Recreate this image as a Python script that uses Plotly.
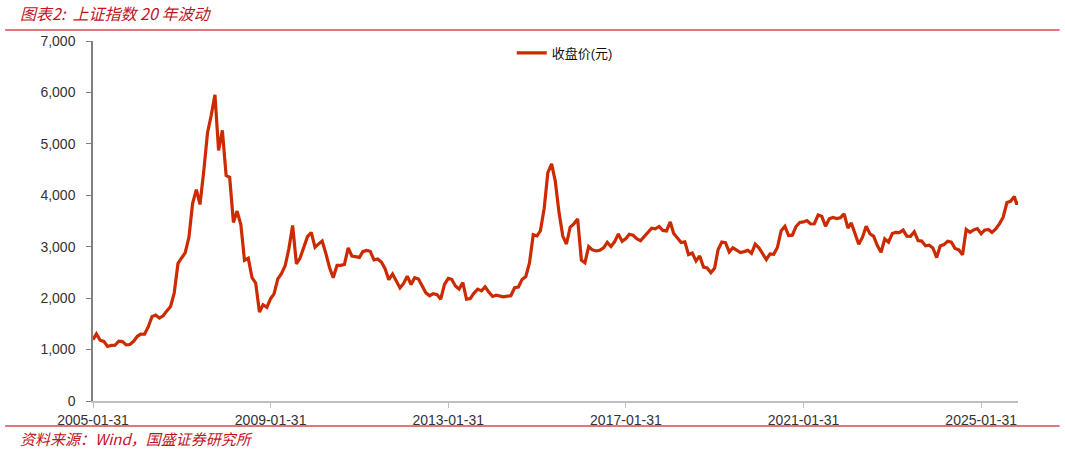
import pandas as pd
import plotly.graph_objects as go

# 上证指数 month-end close, 2005-01 .. 2025-11
CLOSE_2005_2014 = [
    1191, 1306, 1181, 1159, 1060, 1080, 1083, 1162, 1155, 1092, 1099, 1161,
    1258, 1299, 1298, 1440, 1641, 1672, 1612, 1658, 1752, 1837, 2099, 2675,
    2786, 2881, 3183, 3841, 4109, 3821, 4471, 5218, 5552, 5954, 4871, 5262,
    4383, 4348, 3473, 3693, 3433, 2736, 2776, 2397, 2293, 1729, 1871, 1821,
    1991, 2082, 2373, 2477, 2633, 2959, 3412, 2667, 2779, 2996, 3195, 3277,
    2989, 3051, 3110, 2870, 2592, 2398, 2638, 2639, 2656, 2979, 2820, 2808,
    2790, 2905, 2928, 2911, 2743, 2762, 2701, 2568, 2359, 2469, 2333, 2199,
    2292, 2428, 2263, 2397, 2373, 2225, 2103, 2047, 2086, 2069, 1980, 2269,
    2385, 2366, 2237, 2178, 2301, 1979, 1994, 2098, 2175, 2142, 2220, 2116,
    2033, 2056, 2033, 2026, 2039, 2048, 2202, 2217, 2364, 2420, 2683, 3235,
]
CLOSE_2015_2024 = [
    3210, 3310, 3748, 4442, 4612, 4277, 3664, 3206, 3053, 3383, 3445, 3539,
    2738, 2688, 3004, 2938, 2917, 2930, 2979, 3085, 3005, 3100, 3250, 3104,
    3159, 3242, 3223, 3155, 3117, 3192, 3273, 3361, 3349, 3393, 3317, 3307,
    3481, 3259, 3169, 3082, 3095, 2847, 2876, 2725, 2821, 2603, 2588, 2494,
    2585, 2941, 3091, 3078, 2899, 2979, 2933, 2886, 2905, 2929, 2872, 3050,
    2977, 2880, 2750, 2860, 2852, 2985, 3310, 3396, 3218, 3225, 3392, 3473,
    3483, 3509, 3442, 3447, 3615, 3591, 3397, 3544, 3568, 3547, 3564, 3640,
    3361, 3463, 3252, 3047, 3186, 3399, 3253, 3202, 3024, 2893, 3151, 3089,
    3256, 3280, 3273, 3323, 3205, 3202, 3291, 3120, 3110, 3019, 3030, 2975,
    2789, 3015, 3041, 3105, 3087, 2967, 2939, 2842, 3337, 3280, 3326, 3352,
]
CLOSE_2025 = [3251, 3321, 3336, 3279, 3347, 3444, 3573, 3858, 3883, 3975]
TAIL_DATES = ['2025-11-20', '2025-11-30']
TAIL_CLOSE = [3820, 3890]

TICK_DATES = ['2005-01-31', '2009-01-31', '2013-01-31', '2017-01-31',
              '2021-01-31', '2025-01-31']
Y_TICKS = [0, 1000, 2000, 3000, 4000, 5000, 6000, 7000]

RED_TEXT = '#C0141E'
RED_RULE = '#DC4650'
LINE_RED = '#CC2A00'

month_ends = pd.date_range('2005-01-31', '2025-10-31', freq='ME')
dates = list(month_ends.strftime('%Y-%m-%d')) + TAIL_DATES
close = CLOSE_2005_2014 + CLOSE_2015_2024 + CLOSE_2025 + TAIL_CLOSE

fig = go.Figure(go.Scatter(x=dates, y=close, mode='lines', name='收盘价(元)',
                           line=dict(color=LINE_RED, width=3.2)))

fig.update_layout(
    width=1065, height=452,
    margin=dict(l=93, r=47, t=41, b=51),
    paper_bgcolor='white', plot_bgcolor='white',
    font=dict(family='Liberation Sans, Arial, Noto Sans CJK SC', size=14, color='#333333'),
    showlegend=True,
    legend=dict(x=0.51, y=0.967, xanchor='center', yanchor='middle',
                font=dict(size=13, color='#111111'), bgcolor='rgba(0,0,0,0)'),
    xaxis=dict(type='date', range=[dates[0], dates[-1]],
               tickvals=TICK_DATES, ticktext=TICK_DATES,
               showgrid=False, showline=True, linecolor='#BFBFBF', linewidth=1.5,
               ticks='outside', ticklen=5, tickcolor='#BFBFBF', zeroline=False),
    yaxis=dict(range=[0, 7000], tickvals=Y_TICKS, tickformat=',d',
               showgrid=False, showline=True, linecolor='#808080', linewidth=1.5,
               ticks='outside', ticklen=5, tickcolor='#808080', zeroline=False,
               ticklabelstandoff=8),
)

# title, source and the two red rules
fig.add_annotation(text='图表2:  上证指数 20 年波动', xref='paper', yref='paper',
                   x=-0.081, y=1.078, xanchor='left', yanchor='middle', showarrow=False,
                   font=dict(family='Noto Sans CJK SC', size=16, color=RED_TEXT,
                             style='italic'))
fig.add_annotation(text='资料来源：Wind，国盛证券研究所', xref='paper', yref='paper',
                   x=-0.081, y=-0.103, xanchor='left', yanchor='middle', showarrow=False,
                   font=dict(family='Noto Sans CJK SC', size=15, color=RED_TEXT,
                             style='italic'))
fig.add_shape(type='line', xref='paper', yref='paper', x0=-0.095, x1=1.045,
              y0=1.0305, y1=1.0305, line=dict(color=RED_RULE, width=1.5))
fig.add_shape(type='line', xref='paper', yref='paper', x0=-0.095, x1=1.045,
              y0=-0.0694, y1=-0.0694, line=dict(color=RED_RULE, width=1.5))

fig.write_html("out.html", config={'displayModeBar': False},
               post_script="document.body.style.margin='0';")
